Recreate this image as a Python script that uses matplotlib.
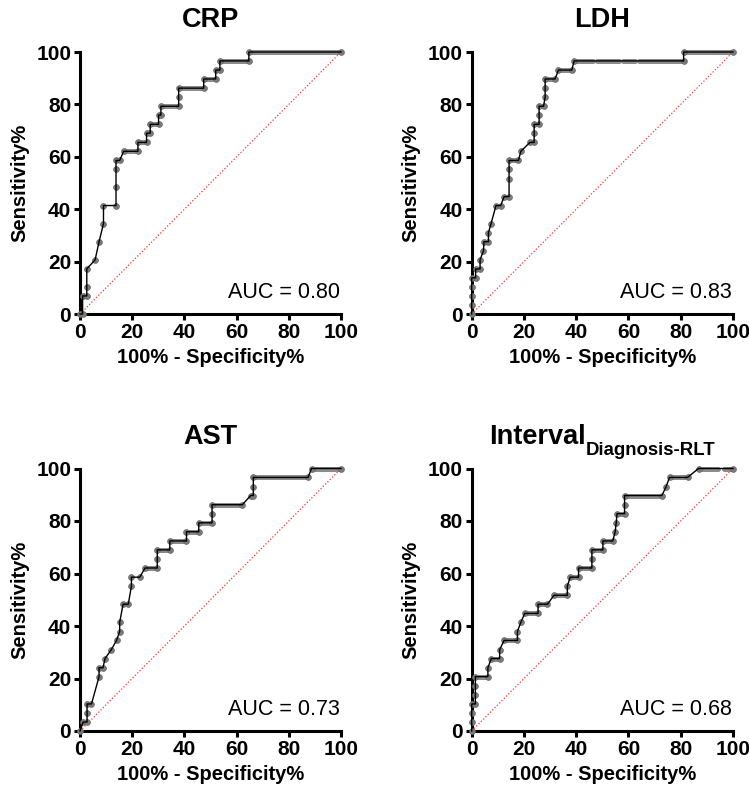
import matplotlib
matplotlib.use("Agg")
import matplotlib.pyplot as plt

plt.rcParams['font.family'] = ['Liberation Sans', 'DejaVu Sans']

# ---------------- data (100% - Specificity%, Sensitivity%) ----------------
crp_x = [0, 1.0, 1.0, 2.6, 2.6, 2.6, 5.8, 7.3, 9.0, 9.0, 13.8, 13.8, 13.8, 13.8, 15.2, 16.7,
         22.2, 22.2, 25.5, 25.5, 26.9, 26.9, 30.1, 30.1, 31.0, 31.0, 37.8, 37.8, 37.8, 47.4,
         47.4, 52.0, 52.0, 53.6, 53.6, 64.7, 64.7, 100]
crp_y = [0, 0, 6.9, 6.9, 10.3, 17.2, 20.7, 27.6, 34.5, 41.4, 41.4, 48.3, 55.2, 58.6, 58.6, 62.1,
         62.1, 65.5, 65.5, 69.0, 69.0, 72.4, 72.4, 75.9, 75.9, 79.3, 79.3, 82.8, 86.2, 86.2,
         89.7, 89.7, 93.1, 93.1, 96.6, 96.6, 100, 100]
crp_runs = [(62.1, 16.7, 22.2), (65.5, 22.2, 25.5), (72.4, 26.9, 30.1), (79.3, 31.0, 37.8),
            (86.2, 37.8, 47.4), (89.7, 47.4, 52.0), (93.1, 52.0, 53.6), (96.6, 53.6, 64.7),
            (100, 64.7, 100)]

ldh_x = [0, 0, 0, 0, 0, 1.5, 1.5, 3.2, 3.2, 4.5, 4.7, 6.4, 6.4, 7.4, 9.3, 11.1, 12.4, 14.3,
         14.3, 14.3, 14.3, 17.9, 18.8, 22.3, 23.9, 23.9, 23.9, 25.8, 25.8, 25.8, 27.5, 28.1,
         28.1, 28.1, 31.9, 33.2, 38.3, 39.2, 81.1, 81.1, 100]
ldh_y = [0, 3.4, 6.9, 10.3, 13.8, 13.8, 17.2, 17.2, 20.7, 24.1, 27.6, 27.6, 31.0, 34.5, 41.4,
         41.4, 44.8, 44.8, 51.7, 55.2, 58.6, 58.6, 62.1, 65.5, 65.5, 69.0, 72.4, 72.4, 75.9,
         79.3, 79.3, 82.8, 86.2, 89.7, 89.7, 93.1, 93.1, 96.6, 96.6, 100, 100]
ldh_runs = [(58.6, 14.3, 17.9), (89.7, 28.1, 31.9), (93.1, 33.2, 38.3), (96.6, 39.2, 46.5),
            (96.6, 48.0, 56.4), (96.6, 58.0, 62.6), (96.6, 64.1, 81.1), (100, 81.1, 100)]

ast_x = [0, 1.2, 2.7, 2.7, 2.7, 4.4, 7.3, 7.3, 8.8, 9.6, 12.0, 14.0, 15.2, 15.2, 16.5, 18.5,
         19.7, 19.7, 22.9, 24.9, 29.6, 29.6, 29.6, 34.4, 34.4, 40.8, 40.8, 45.5, 45.5, 50.6,
         50.6, 50.6, 62.2, 65.4, 66.4, 66.4, 66.4, 87.4, 88.7, 100]
ast_y = [0, 3.4, 3.4, 6.9, 10.3, 10.3, 20.7, 24.1, 24.1, 27.6, 31.0, 34.5, 37.9, 41.4, 48.3,
         48.3, 55.2, 58.6, 58.6, 62.1, 62.1, 65.5, 69.0, 69.0, 72.4, 72.4, 75.9, 75.9, 79.3,
         79.3, 82.8, 86.2, 86.2, 89.7, 89.7, 93.1, 96.6, 96.6, 100, 100]
ast_runs = [(62.1, 24.9, 29.6), (69.0, 29.6, 34.4), (72.4, 34.4, 40.8), (75.9, 40.8, 45.5),
            (79.3, 45.5, 50.6), (86.2, 50.6, 62.2), (96.6, 66.4, 87.4), (100, 88.7, 100)]

int_x = [0, 0, 0, 0, 1.4, 1.4, 1.4, 1.4, 6.2, 6.2, 7.5, 10.7, 10.7, 12.4, 17.5, 17.5, 18.8,
         20.3, 25.4, 25.4, 29.0, 31.5, 36.6, 36.6, 37.7, 40.9, 40.9, 46.0, 46.0, 46.0, 50.2,
         50.2, 54.0, 54.9, 55.3, 55.6, 58.5, 58.5, 58.5, 72.8, 74.4, 75.7, 82.6, 86.8, 100]
int_y = [0, 3.4, 6.9, 10.3, 10.3, 13.8, 17.2, 20.7, 20.7, 24.1, 27.6, 27.6, 31.0, 34.5, 34.5,
         37.9, 41.4, 44.8, 44.8, 48.3, 48.3, 51.7, 51.7, 55.2, 58.6, 58.6, 62.1, 62.1, 65.5,
         69.0, 69.0, 72.4, 72.4, 75.9, 79.3, 82.8, 82.8, 86.2, 89.7, 89.7, 93.1, 96.6, 96.6,
         100, 100]
int_runs = [(20.7, 1.4, 6.2), (27.6, 7.5, 10.7), (34.5, 12.4, 17.5), (44.8, 20.3, 25.4),
            (48.3, 25.4, 29.0), (51.7, 31.5, 36.6), (58.6, 37.7, 40.9), (62.1, 40.9, 46.0),
            (69.0, 46.0, 50.2), (72.4, 50.2, 54.0), (82.8, 55.6, 58.5), (89.7, 58.5, 72.8),
            (96.6, 75.7, 82.6), (100, 86.8, 94.1), (100, 96.4, 100)]

titles = ["CRP", "LDH", "AST", None]
aucs = ["AUC = 0.80", "AUC = 0.83", "AUC = 0.73", "AUC = 0.68"]
ticks = [0, 20, 40, 60, 80, 100]

panels = [(crp_x, crp_y, crp_runs), (ldh_x, ldh_y, ldh_runs),
          (ast_x, ast_y, ast_runs), (int_x, int_y, int_runs)]

W, H = 749, 800
fig = plt.figure(figsize=(W / 100, H / 100), dpi=100)
rects_px = [(80, 52, 341, 314), (471.7, 52, 733, 314),
            (80, 468.5, 341, 731), (471.7, 468.5, 733, 731)]

for i, ((xs, ys, runs), (l, t, r, b)) in enumerate(zip(panels, rects_px)):
    ax = fig.add_axes([l / W, 1 - b / H, (r - l) / W, (b - t) / H])
    ax.set_xlim(0, 100)
    ax.set_ylim(0, 100)
    # reference diagonal
    ax.plot([0, 100], [0, 100], color='#ff3030', lw=0.9, linestyle=(0, (1, 1.6)), zorder=2)
    # dense point runs (gray band of symbols)
    for (yy, x0, x1) in runs:
        ax.plot([x0, x1], [yy, yy], color='#8c8c8c', lw=3.6, solid_capstyle='round',
                zorder=3, clip_on=False)
    ax.plot(xs, ys, linestyle='none', marker='o', markersize=4.2, markerfacecolor='#7a7a7a',
            markeredgecolor='#666666', markeredgewidth=0.5, zorder=5, clip_on=False)
    ax.plot(xs, ys, color='black', lw=1.0, zorder=6, clip_on=False)

    for s in ['top', 'right']:
        ax.spines[s].set_visible(False)
    for s in ['left', 'bottom']:
        ax.spines[s].set_linewidth(2.2)
    ax.set_xticks(ticks)
    ax.set_yticks(ticks)
    ax.tick_params(axis='both', which='major', length=4.3, width=2.2, labelsize=15,
                   pad=2, direction='out')
    for lab in ax.get_xticklabels() + ax.get_yticklabels():
        lab.set_fontweight('bold')
    ax.set_xlabel("100% - Specificity%", fontsize=14.5, fontweight='bold')
    ax.set_ylabel("Sensitivity%", fontsize=14.5, fontweight='bold')
    ax.xaxis.set_label_coords(0.5, -0.13)
    ax.yaxis.set_label_coords(-0.195, 0.5)
    ax.text(99.5, 8.3, aucs[i], ha='right', va='center', fontsize=15.5)
    if titles[i] is not None:
        ax.text(0.5, 1.095, titles[i], transform=ax.transAxes, ha='center', va='baseline',
                fontsize=19.5, fontweight='bold')
    else:
        t1 = ax.text(0.435, 1.095, "Interval", transform=ax.transAxes, ha='right',
                     va='baseline', fontsize=19.5, fontweight='bold')
        ax.annotate("Diagnosis-RLT", xy=(1.0, 0.0), xycoords=t1, xytext=(0, -4),
                    textcoords='offset points', ha='left', va='baseline',
                    fontsize=13.4, fontweight='bold')

fig.savefig("out.png", dpi=100)
